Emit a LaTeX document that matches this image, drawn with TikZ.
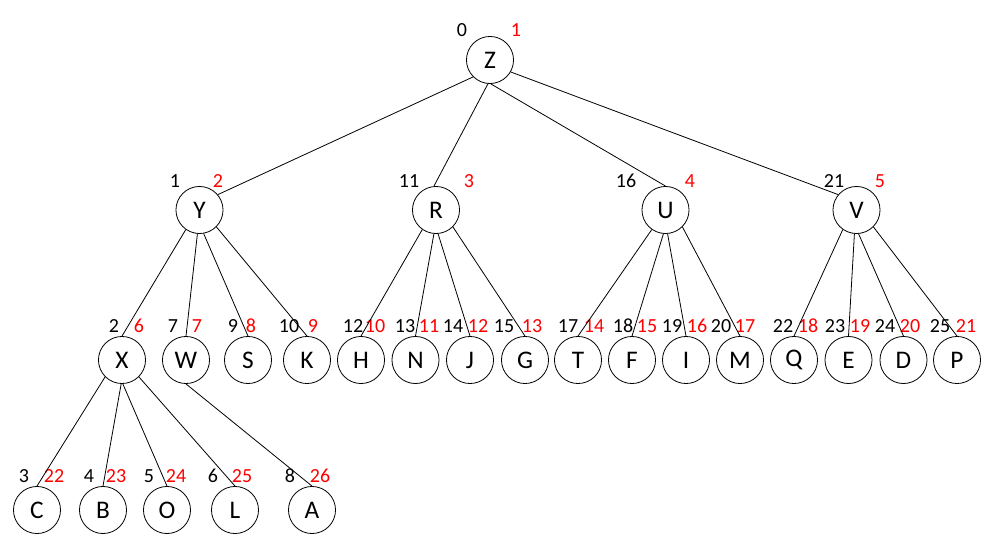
\documentclass[tikz,border=0pt]{standalone}
\usepackage{fontspec}
\setmainfont{Carlito}
\begin{document}
\begin{tikzpicture}[x=0.75pt,y=-0.75pt,
  vtx/.style={draw,circle,line width=0.6pt,minimum size=35.3pt,inner sep=0pt,font=\fontsize{19}{22}\selectfont},
  bl/.style={font=\fontsize{15}{17}\selectfont,text=black,inner sep=0pt},
  rd/.style={font=\fontsize{15}{17}\selectfont,text=red,inner sep=0pt},
  edge/.style={draw,line width=0.6pt}]
\useasboundingbox (0,0) rectangle (992,555);
% nodes
\node[vtx] (Z) at (490,60) {Z};
\node[vtx] (Y) at (199.5,210) {Y};
\node[vtx] (R) at (436,210) {R};
\node[vtx] (U) at (665.5,210) {U};
\node[vtx] (V) at (856.5,210) {V};
\node[vtx] (X) at (122,360) {X};
\node[vtx] (W) at (186,360) {W};
\node[vtx] (S) at (248,360) {S};
\node[vtx] (K) at (307,360) {K};
\node[vtx] (H) at (361,360) {H};
\node[vtx] (N) at (415.5,360) {N};
\node[vtx] (J) at (470,360) {J};
\node[vtx] (G) at (525,360) {G};
\node[vtx] (T) at (578,360) {T};
\node[vtx] (F) at (632,360) {F};
\node[vtx] (I) at (686,360) {I};
\node[vtx] (M) at (740,360) {M};
\node[vtx] (Q) at (794,360) {Q};
\node[vtx] (E) at (848.5,360) {E};
\node[vtx] (D) at (903.5,360) {D};
\node[vtx] (P) at (957,360) {P};
\node[vtx] (C) at (37,510) {C};
\node[vtx] (B) at (103,510) {B};
\node[vtx] (O) at (167,510) {O};
\node[vtx] (L) at (235,510) {L};
\node[vtx] (A) at (312,510) {A};
% labels
\node[bl] (bZ) at (462,30) {0};   \node[rd] (rZ) at (516,30) {1};
\node[bl] (bY) at (175,181) {1};  \node[rd] (rY) at (218,181) {2};
\node[bl] (bR) at (409,181) {11}; \node[rd] (rR) at (469,181) {3};
\node[bl] (bU) at (626,181) {16}; \node[rd] (rU) at (690,181) {4};
\node[bl] (bV) at (834,181) {21}; \node[rd] (rV) at (880,181) {5};
\node[bl] (bX) at (114,326) {2};  \node[rd] (rX) at (139,326) {6};
\node[bl] (bW) at (173,326) {7};  \node[rd] (rW) at (197,326) {7};
\node[bl] (bS) at (233,326) {9};  \node[rd] (rS) at (251,326) {8};
\node[bl] (bK) at (289,326) {10}; \node[rd] (rK) at (313,326) {9};
\node[bl] (bH) at (353,326) {12}; \node[rd] (rH) at (375,326) {10};
\node[bl] (bN) at (405,326) {13}; \node[rd] (rN) at (429,326) {11};
\node[bl] (bJ) at (453,326) {14}; \node[rd] (rJ) at (478,326) {12};
\node[bl] (bG) at (504,326) {15}; \node[rd] (rG) at (532,326) {13};
\node[bl] (bT) at (568,326) {17}; \node[rd] (rT) at (594,326) {14};
\node[bl] (bF) at (623,326) {18}; \node[rd] (rF) at (647,326) {15};
\node[bl] (bI) at (672,326) {19}; \node[rd] (rI) at (697,326) {16};
\node[bl] (bM) at (721,326) {20}; \node[rd] (rM) at (745,326) {17};
\node[bl] (bQ) at (783,326) {22}; \node[rd] (rQ) at (808,326) {18};
\node[bl] (bE) at (835,326) {23}; \node[rd] (rE) at (860,326) {19};
\node[bl] (bD) at (885,326) {24}; \node[rd] (rD) at (910,326) {20};
\node[bl] (bP) at (940,326) {25}; \node[rd] (rP) at (966,326) {21};
\node[bl] (bC) at (24,476) {3};   \node[rd] (rC) at (54,476) {22};
\node[bl] (bB) at (89,476) {4};   \node[rd] (rB) at (116,476) {23};
\node[bl] (bO) at (149,476) {5};  \node[rd] (rO) at (176,476) {24};
\node[bl] (bL) at (213,476) {6};  \node[rd] (rL) at (242,476) {25};
\node[bl] (bA) at (290,476) {8};  \node[rd] (rA) at (320,476) {26};
% edges
\draw[edge] (Z.225) -- (Y.40);
\draw[edge] (Z.265) -- (R.95);
\draw[edge] (Z.272) -- (U.north);
\draw[edge] (Z.-30) -- (V.140);
\draw[edge] (Y.235) -- (X.north);
\draw[edge] (Y.265) -- (W.north);
\draw[edge] (Y.-80) -- (S.north);
\draw[edge] (Y.-45) -- (K.north);
\draw[edge] (R.235) -- (H.north);
\draw[edge] (R.-95) -- (N.north);
\draw[edge] (R.-85) -- (J.north);
\draw[edge] (R.-45) -- (G.north);
\draw[edge] (U.235) -- (T.north);
\draw[edge] (U.-95) -- (F.north);
\draw[edge] (U.-85) -- (I.north);
\draw[edge] (U.-45) -- (M.north);
\draw[edge] (V.235) -- (Q.north);
\draw[edge] (V.-95) -- (E.north);
\draw[edge] (V.-85) -- (D.north);
\draw[edge] (V.-45) -- (P.north);
\draw[edge] (X.225) -- (C.north);
\draw[edge] (X.-92) -- (B.north);
\draw[edge] (X.-88) -- (O.north);
\draw[edge] (X.-45) -- (L.north);
\draw[edge] (W.south) -- (A.north);
\end{tikzpicture}
\end{document}
